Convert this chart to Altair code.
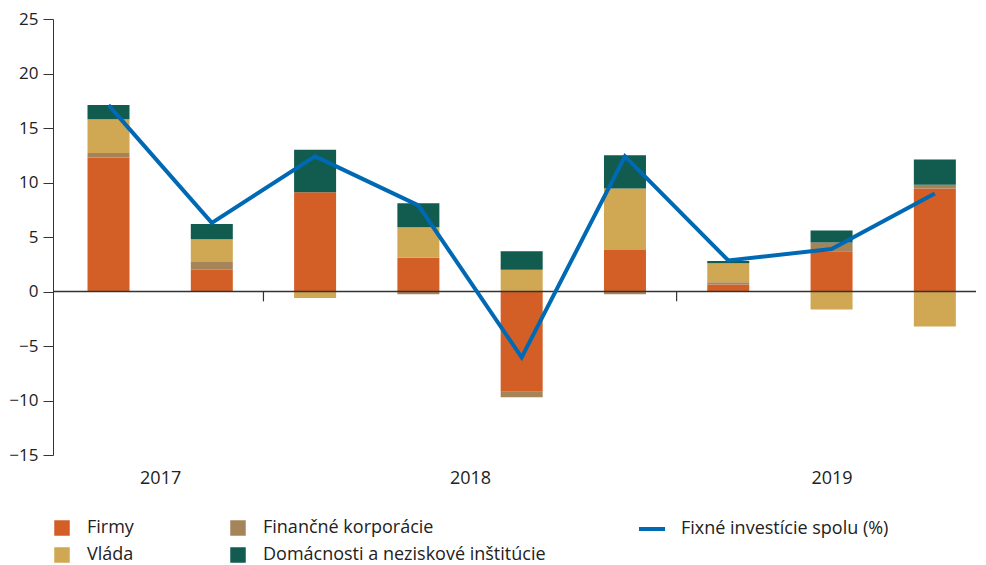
import altair as alt
import pandas as pd

# quarters (positions 1..9): 2017 Q3 .. 2019 Q3
quarters = [1, 2, 3, 4, 5, 6, 7, 8, 9]
firmy = [12.3, 2.0, 9.1, 3.1, -9.2, 3.8, 0.65, 3.7, 9.45]
financne = [0.4, 0.7, 0.0, -0.25, -0.5, -0.25, 0.2, 0.8, 0.35]
vlada = [3.1, 2.1, -0.6, 2.8, 2.0, 5.65, 1.75, -1.65, -3.2]
domacnosti = [1.3, 1.4, 3.9, 2.2, 1.7, 3.05, 0.2, 1.1, 2.3]
spolu = [17.1, 6.3, 12.4, 7.9, -6.05, 12.4, 2.85, 3.9, 9.0]

# stacking order (bottom to top)
categories = ["Firmy", "Finančné korporácie", "Vláda", "Domácnosti a neziskové inštitúcie"]
cat_colors = ["#D35F27", "#A6845A", "#D0A752", "#115B4F"]
# legend order (column-major in a 2-column legend)
legend_order = ["Firmy", "Vláda", "Finančné korporácie", "Domácnosti a neziskové inštitúcie"]
legend_colors = [cat_colors[categories.index(c)] for c in legend_order]
line_name = "Fixné investície spolu (%)"
line_color = "#0069B4"

year_labels = ["2017", "2018", "2019"]
year_label_pos = [1.5, 4.5, 8]
year_breaks = [2.5, 6.5]
y_ticks = [-15, -10, -5, 0, 5, 10, 15, 20, 25]

FONT = "Open Sans"

rows = []
for i, q in enumerate(quarters):
    for k, (cat, vals) in enumerate(zip(categories, [firmy, financne, vlada, domacnosti])):
        rows.append({"q": q, "cat": cat, "value": vals[i], "idx": k})
bars_df = pd.DataFrame(rows)
line_df = pd.DataFrame({"q": quarters, "value": spolu, "name": [line_name] * len(quarters)})
zero_df = pd.DataFrame({"y": [0]})
breaks_df = pd.DataFrame({"q": year_breaks})

label_expr = " : ".join(
    [f"datum.value == {p} ? '{l}'" for p, l in zip(year_label_pos[:-1], year_labels[:-1])]
) + f" : '{year_labels[-1]}'"

x_scale = alt.Scale(domain=[0.511, 9.35], nice=False, zero=False)
y_scale = alt.Scale(domain=[-15, 25], nice=False)

x_axis = alt.Axis(
    values=year_label_pos, labelExpr=label_expr, title=None, domain=False, ticks=False,
    grid=False, labelFontSize=18, labelFont=FONT, labelColor="#222", labelPadding=14,
)
y_axis = alt.Axis(
    values=y_ticks, title=None, grid=False, domainColor="#333", tickColor="#333",
    tickSize=10, labelPadding=5, labelFontSize=17, labelFont=FONT, labelColor="#222",
)

bars = alt.Chart(bars_df).mark_bar(size=42).encode(
    x=alt.X("q:Q", scale=x_scale, axis=x_axis),
    y=alt.Y("value:Q", stack="zero", scale=y_scale, axis=y_axis),
    color=alt.Color(
        "cat:N",
        scale=alt.Scale(domain=legend_order, range=legend_colors),
        legend=alt.Legend(
            title=None, orient="none", legendX=0, legendY=500, columns=2,
            symbolType="square", symbolSize=240, symbolStrokeWidth=0,
            labelFontSize=18, labelFont=FONT, labelColor="#222", labelOffset=16,
            labelLimit=0, columnPadding=95, rowPadding=9, padding=0,
        ),
    ),
    order=alt.Order("idx:Q"),
)

zero = alt.Chart(zero_df).mark_rule(color="#333", strokeWidth=1.5).encode(y=alt.Y("y:Q", scale=y_scale))

breaks = alt.Chart(breaks_df).mark_rule(color="#333", strokeWidth=1.2).encode(
    x=alt.X("q:Q", scale=x_scale),
    y=alt.datum(0),
    y2=alt.datum(-0.9),
)

line = alt.Chart(line_df).mark_line(strokeWidth=4).encode(
    x=alt.X("q:Q", scale=x_scale),
    y=alt.Y("value:Q", scale=y_scale),
    stroke=alt.Stroke(
        "name:N",
        scale=alt.Scale(domain=[line_name], range=[line_color]),
        legend=alt.Legend(
            title=None, orient="none", legendX=584, legendY=495,
            symbolType="stroke", symbolSize=676, symbolStrokeWidth=4,
            labelFontSize=18, labelFont=FONT, labelColor="#222", labelOffset=14,
            labelLimit=0, padding=0,
        ),
    ),
)

chart = alt.layer(bars, zero, breaks, line).resolve_scale(
    color="independent"
).properties(
    width=923, height=436, padding={"left": 0, "top": 2, "right": 0, "bottom": 0}
).configure_view(stroke=None)

chart.save("out.html", embed_options={"renderer": "svg", "actions": False})
